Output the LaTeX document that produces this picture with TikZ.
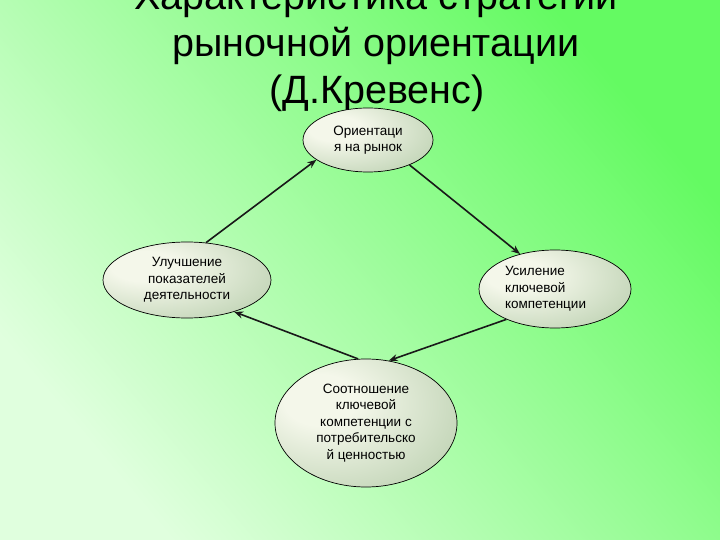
\documentclass[tikz,border=0pt]{standalone}
\usepackage{fontspec}
\setmainfont{Liberation Sans}
\usepackage{xcolor}
\usepackage{tikz}
\usetikzlibrary{positioning,shapes.geometric,arrows.meta}

\definecolor{bgpale}{RGB}{224,255,222}
\definecolor{bgbright}{RGB}{100,250,98}
\definecolor{bubcore}{RGB}{244,247,234}
\definecolor{bubrim}{RGB}{158,188,146}

\pgfdeclareradialshading{bubbleshade}{\pgfpoint{-14bp}{10bp}}{%
  color(0bp)=(bubcore); color(10bp)=(bubcore); color(58bp)=(bubrim); color(100bp)=(bubrim)}

\tikzset{
  bubble/.style={ellipse, draw=black, line width=0.7pt, shading=bubbleshade,
    inner sep=0pt, align=center, font=\fontsize{13.5}{16.5}\selectfont},
  titleline/.style={anchor=base, inner sep=0pt, font=\fontsize{39.5}{47}\selectfont},
  link/.style={->, line width=1.6pt, draw=black!90}
}

\begin{document}
\begin{tikzpicture}[x=1pt, y=-1pt, >={Stealth[length=9pt,width=7pt]}]

\useasboundingbox (0,0) rectangle (720,540);
\clip (0,0) rectangle (720,540);

% Background
\shade[bottom color=bgpale, top color=bgbright, shading angle=-50] (0,0) rectangle (720,540);

% Title
\node[titleline] (title1) at (376,10) {Характеристика стратегии};
\node[titleline] (title2) at (376,57) {рыночной ориентации};
\node[titleline] (title3) at (377,104) {(Д.Кревенс)};

% Ellipses
\node[bubble, minimum width=130, minimum height=64] (orient) at (368,140)
  {Ориентаци\\я на рынок};
\node[bubble, minimum width=168, minimum height=76] (improve) at (187,280)
  {Улучшение\\показателей\\деятельности};
\node[bubble, minimum width=152, minimum height=78, align=left, text width=100] (strengthen) at (555,289)
  {Усиление\\ключевой\\компетенции};
\node[bubble, minimum width=182, minimum height=128] (ratio) at (366,423)
  {Соотношение\\ключевой\\компетенции с\\потребительско\\й ценностью};

% Cycle of arrows
\foreach \from/\to in {improve.63/orient.201, orient.-31/strengthen.135,
    strengthen.212/ratio.70, ratio.97/improve.-34} {
  \draw[link] (\from) -- (\to);
}

\end{tikzpicture}
\end{document}
